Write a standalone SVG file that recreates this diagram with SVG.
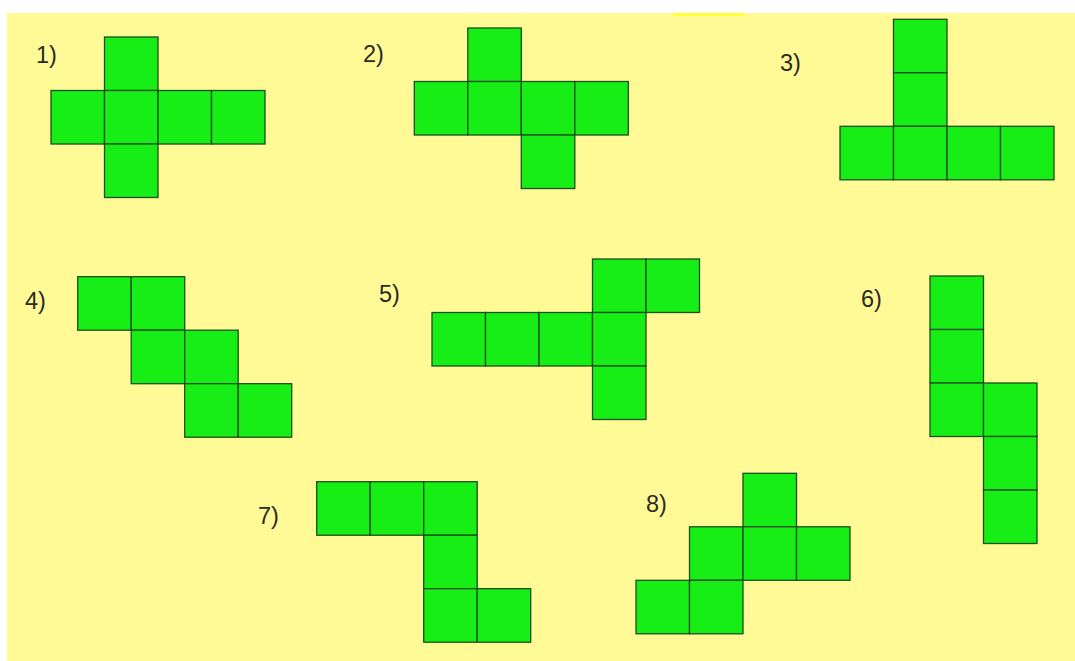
<svg xmlns="http://www.w3.org/2000/svg" width="1075" height="661" viewBox="0 0 1075 661">
  <defs>
    <style>
      .sq { fill: #16ee16; stroke: #1b4f1b; stroke-width: 1.3; }
      .lbl { font-family: "Liberation Sans", Arial, sans-serif; font-size: 23.5px; fill: #2a2a22; }
    </style>
    <rect id="s" width="53.5" height="53.5" class="sq"/>
  </defs>
  <rect x="0" y="0" width="1075" height="661" fill="#ffffff"/>
  <rect x="7" y="13" width="1068" height="648" fill="#fffa96"/>
  <rect x="673" y="13" width="72" height="3" fill="#ffff3a"/>

  <g id="connectors"></g>

  <g id="node1">
    <text class="lbl" x="36" y="63">1)</text>
    <g transform="translate(51,37)">
      <use href="#s" x="53.5" y="0"/>
      <use href="#s" x="0" y="53.5"/>
      <use href="#s" x="53.5" y="53.5"/>
      <use href="#s" x="107" y="53.5"/>
      <use href="#s" x="160.5" y="53.5"/>
      <use href="#s" x="53.5" y="107"/>
    </g>
  </g>

  <g id="node2">
    <text class="lbl" x="363" y="62">2)</text>
    <g transform="translate(414.3,28)">
      <use href="#s" x="53.5" y="0"/>
      <use href="#s" x="0" y="53.5"/>
      <use href="#s" x="53.5" y="53.5"/>
      <use href="#s" x="107" y="53.5"/>
      <use href="#s" x="160.5" y="53.5"/>
      <use href="#s" x="107" y="107"/>
    </g>
  </g>

  <g id="node3">
    <text class="lbl" x="780" y="71">3)</text>
    <g transform="translate(840,19.3)">
      <use href="#s" x="53.5" y="0"/>
      <use href="#s" x="53.5" y="53.5"/>
      <use href="#s" x="0" y="107"/>
      <use href="#s" x="53.5" y="107"/>
      <use href="#s" x="107" y="107"/>
      <use href="#s" x="160.5" y="107"/>
    </g>
  </g>

  <g id="node4">
    <text class="lbl" x="25" y="309">4)</text>
    <g transform="translate(77.7,276.7)">
      <use href="#s" x="0" y="0"/>
      <use href="#s" x="53.5" y="0"/>
      <use href="#s" x="53.5" y="53.5"/>
      <use href="#s" x="107" y="53.5"/>
      <use href="#s" x="107" y="107"/>
      <use href="#s" x="160.5" y="107"/>
    </g>
  </g>

  <g id="node5">
    <text class="lbl" x="379" y="302">5)</text>
    <g transform="translate(432,259)">
      <use href="#s" x="160.5" y="0"/>
      <use href="#s" x="214" y="0"/>
      <use href="#s" x="0" y="53.5"/>
      <use href="#s" x="53.5" y="53.5"/>
      <use href="#s" x="107" y="53.5"/>
      <use href="#s" x="160.5" y="53.5"/>
      <use href="#s" x="160.5" y="107"/>
    </g>
  </g>

  <g id="node6">
    <text class="lbl" x="861" y="307">6)</text>
    <g transform="translate(930,276)">
      <use href="#s" x="0" y="0"/>
      <use href="#s" x="0" y="53.5"/>
      <use href="#s" x="0" y="107"/>
      <use href="#s" x="53.5" y="107"/>
      <use href="#s" x="53.5" y="160.5"/>
      <use href="#s" x="53.5" y="214"/>
    </g>
  </g>

  <g id="node7">
    <text class="lbl" x="258" y="524">7)</text>
    <g transform="translate(316.7,481.7)">
      <use href="#s" x="0" y="0"/>
      <use href="#s" x="53.5" y="0"/>
      <use href="#s" x="107" y="0"/>
      <use href="#s" x="107" y="53.5"/>
      <use href="#s" x="107" y="107"/>
      <use href="#s" x="160.5" y="107"/>
    </g>
  </g>

  <g id="node8">
    <text class="lbl" x="646" y="512">8)</text>
    <g transform="translate(636,473.3)">
      <use href="#s" x="107" y="0"/>
      <use href="#s" x="53.5" y="53.5"/>
      <use href="#s" x="107" y="53.5"/>
      <use href="#s" x="160.5" y="53.5"/>
      <use href="#s" x="0" y="107"/>
      <use href="#s" x="53.5" y="107"/>
    </g>
  </g>
</svg>
